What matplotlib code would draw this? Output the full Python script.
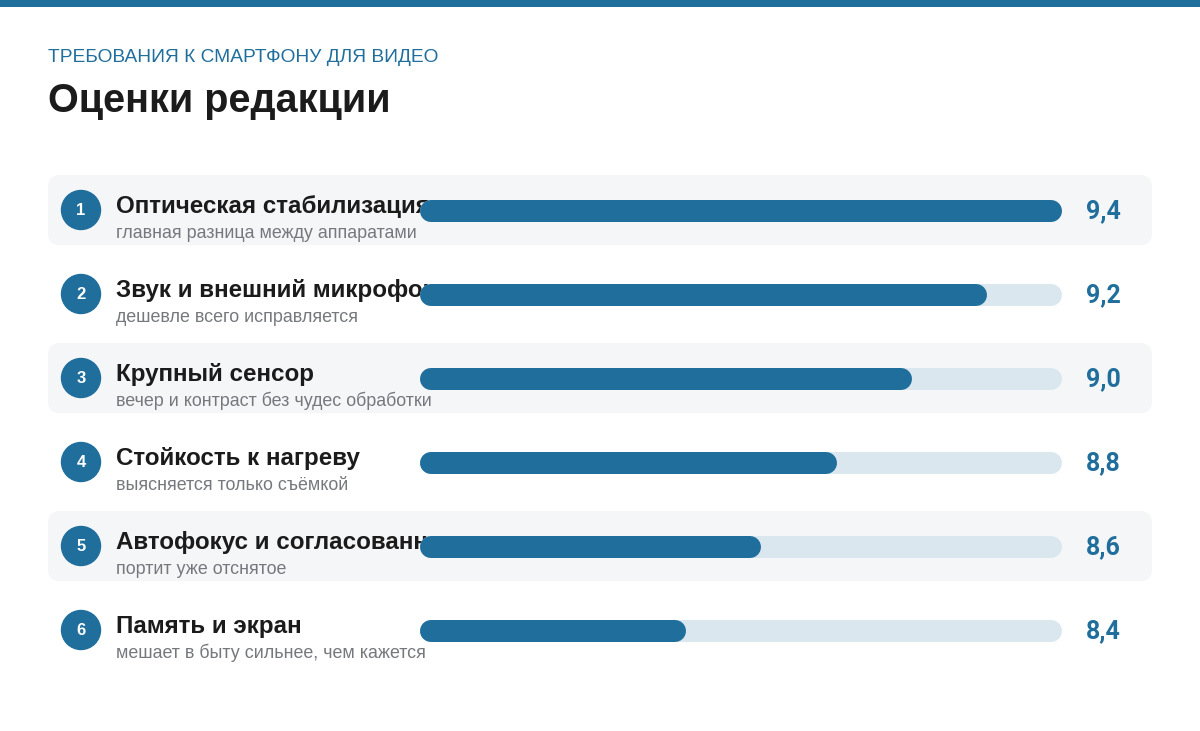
import matplotlib
matplotlib.use("Agg")
import matplotlib.pyplot as plt
from matplotlib.patches import FancyBboxPatch, Circle, Rectangle

# ---- data ----
labels = ["Оптическая стабилизация", "Звук и внешний микрофон", "Крупный сенсор",
          "Стойкость к нагреву", "Автофокус и согласованность", "Память и экран"]
sublabels = ["главная разница между аппаратами", "дешевле всего исправляется",
             "вечер и контраст без чудес обработки", "выясняется только съёмкой",
             "портит уже отснятое", "мешает в быту сильнее, чем кажется"]
scores = [9.4, 9.2, 9.0, 8.8, 8.6, 8.4]
value_labels = ["9,4", "9,2", "9,0", "8,8", "8,6", "8,4"]
kicker = "ТРЕБОВАНИЯ К СМАРТФОНУ ДЛЯ ВИДЕО"
title = "Оценки редакции"
scale_min, scale_max = 7.75, 9.4

# ---- style ----
BLUE = "#1f6e9c"
TRACK = "#dbe7ef"
ROWBG = "#f5f6f8"
DARK = "#1b1b1b"
GRAY = "#75787d"
W, H = 1200, 731
FONT = ["Liberation Sans", "DejaVu Sans"]
NUMFONT = ["Roboto", "Liberation Sans", "DejaVu Sans"]

fig = plt.figure(figsize=(W / 100, H / 100), dpi=100)
fig.patch.set_facecolor("white")
ax = fig.add_axes([0, 0, 1, 1])
ax.set_xlim(0, W)
ax.set_ylim(H, 0)
ax.axis("off")

# top band
ax.add_patch(Rectangle((0, 0), W, 6.5, color=BLUE, lw=0))

ax.text(48, 62.5, kicker, fontsize=13.8, color=BLUE, family=FONT, va="baseline")
ax.text(48, 112.5, title, fontsize=28.5, color=DARK, family=FONT, weight="bold", va="baseline")

row0, step = 210, 84
track_x0, track_x1 = 420, 1062
radius = 11  # half bar height in px

for i, (lab, sub, vl) in enumerate(zip(labels, sublabels, value_labels)):
    yc = row0 + step * i
    if i % 2 == 0:
        ax.add_patch(FancyBboxPatch((48, yc - 35), 1104, 70,
                                    boxstyle="round,pad=0,rounding_size=12",
                                    fc=ROWBG, ec="none", zorder=0))
    ax.add_patch(Circle((81, yc), 19.5, color=BLUE, zorder=2))
    ax.text(81, yc + 0.5, str(i + 1), fontsize=12, color="white", weight="bold",
            family=FONT, ha="center", va="center", zorder=3)
    ax.text(116, yc + 3.5, lab, fontsize=17.4, color=DARK, weight="bold",
            family=FONT, va="baseline", zorder=3)
    ax.text(116, yc + 28, sub, fontsize=12.9, color=GRAY,
            family=FONT, va="baseline", zorder=3)
    ax.text(1086, yc + 1, vl, fontsize=18, color=BLUE, weight="bold",
            family=NUMFONT, va="center", zorder=3)

# bar axes: inset by cap radius so round caps land on track ends
bx0 = (track_x0 + radius) / W
bw = (track_x1 - track_x0 - 2 * radius) / W
bax = fig.add_axes([bx0, 0, bw, 1])
bax.set_xlim(scale_min, scale_max)
bax.set_ylim(H, 0)
bax.axis("off")
bax.patch.set_alpha(0)

lw_pt = 2 * radius * 72 / 100
for i, s in enumerate(scores):
    yc = row0 + step * i + 1
    bax.plot([scale_min, scale_max], [yc, yc], color=TRACK, lw=lw_pt,
             solid_capstyle="round", zorder=1, clip_on=False)
    bax.plot([scale_min, s], [yc, yc], color=BLUE, lw=lw_pt,
             solid_capstyle="round", zorder=2, clip_on=False)

fig.savefig("out.png", dpi=100, facecolor="white")
